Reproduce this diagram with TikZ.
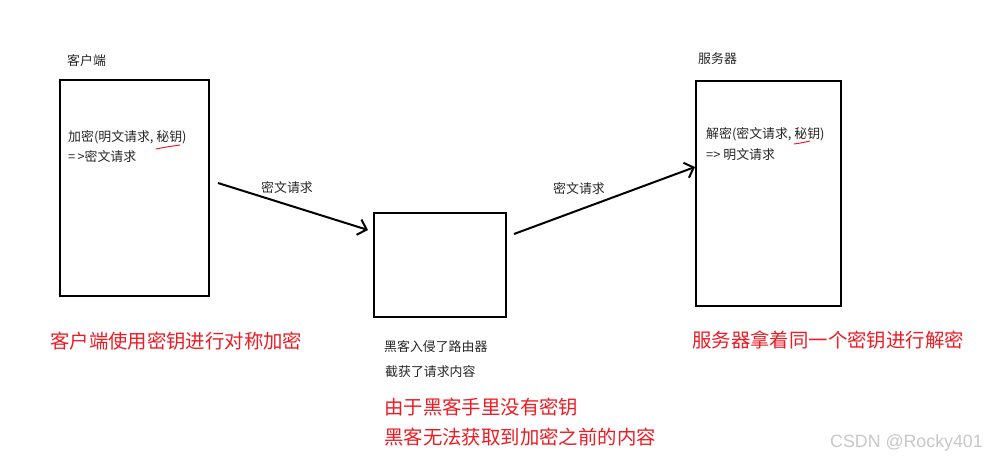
\documentclass[tikz,border=0pt]{standalone}
\usepackage{fontspec}
\setmainfont{Noto Sans CJK SC}
\newfontfamily\wmfont{Liberation Sans}
\usetikzlibrary{arrows.meta}
\definecolor{paintred}{RGB}{237,28,36}
\definecolor{wmgrey}{RGB}{200,200,200}
\tikzset{
  box/.style={draw=black, line width=2pt, inner sep=0pt},
  txt/.style={anchor=west, inner sep=0pt, font=\fontsize{12.9}{14}\selectfont, text=black!85},
  redtxt/.style={anchor=west, inner sep=0pt, font=\fontsize{19.4}{22}\selectfont, text=paintred},
  conn/.style={line width=2pt, -{Straight Barb[length=8pt,width=16pt,line width=2pt]}},
  uline/.style={draw=paintred, line width=1pt}
}
\begin{document}
\begin{tikzpicture}[x=1pt,y=-1pt]
\useasboundingbox[fill=white] (0,0) rectangle (986,462);
% boxes
\node[box, minimum width=149pt, minimum height=216pt] (client) at (134.5,188) {};
\node[box, minimum width=132pt, minimum height=104pt] (hacker) at (440,265) {};
\node[box, minimum width=145pt, minimum height=225pt] (server) at (768.5,193.5) {};
% titles
\node[txt] (ctitle) at (67,61) {客户端};
\node[txt] (stitle) at (698,59) {服务器};
% inside texts
\node[txt] (c1) at (68,137) {加密(明文请求, 秘钥)};
\node[txt] (c2) at (68,157) {=\,>密文请求};
\node[txt] (s1) at (706,134) {解密(密文请求, 秘钥)};
\node[txt] (s2) at (706,155) {=> 明文请求};
% red underlines
\draw[uline] (156,149) .. controls (166,147) and (173,146) .. (180,145);
\draw[uline] (794,144) .. controls (801,143) and (806,142) .. (810,141);
% arrows
\coordinate (a1s) at (218,183);
\coordinate (a1e) at (368,230);
\coordinate (a2s) at (514,234);
\coordinate (a2e) at (695,167);
\draw[conn] (a1s) -- (a1e);
\draw[conn] (a2s) -- (a2e);
\node[txt] (l1) at (261,188) {密文请求};
\node[txt] (l2) at (553,189) {密文请求};
% hacker texts
\node[txt] (h1) at (384,347) {黑客入侵了路由器};
\node[txt] (h2) at (385,372) {截获了请求内容};
% red notes
\node[redtxt] (r1) at (50,341) {客户端使用密钥进行对称加密};
\node[redtxt] (r2) at (692,340) {服务器拿着同一个密钥进行解密};
\node[redtxt] (r3) at (384,407) {由于黑客手里没有密钥};
\node[redtxt] (r4) at (384,437) {黑客无法获取到加密之前的内容};
% watermark
\node[anchor=west, inner sep=0pt, font=\wmfont\fontsize{17.8}{19}\selectfont, text=wmgrey] (wm) at (830,443) {CSDN @Rocky401};
\end{tikzpicture}
\end{document}
